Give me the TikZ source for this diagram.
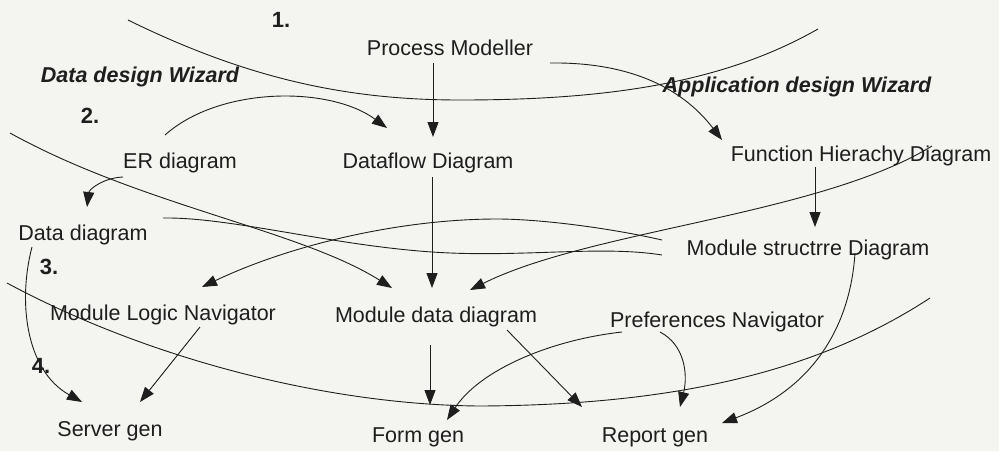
\documentclass[tikz,border=0pt]{standalone}
\usepackage{fontspec}
\setmainfont{Liberation Sans}
\usetikzlibrary{arrows.meta}
\definecolor{paper}{RGB}{244,244,240}
\definecolor{ink}{RGB}{30,30,30}
\begin{document}
\begin{tikzpicture}[x=1pt,y=-1pt,
  lbl/.style={inner sep=0pt, text height=15.5pt, text depth=4.5pt, font=\fontsize{21.5}{24}\selectfont, text=ink},
  hdr/.style={lbl, font=\fontsize{21.5}{24}\selectfont\bfseries\itshape},
  num/.style={lbl, font=\fontsize{22}{24}\selectfont\bfseries},
  link/.style={draw=ink, line width=0.9pt},
  arr/.style={link, -{Triangle[length=15pt,width=11pt]}},
]
\fill[paper] (0,0) rectangle (999,451);
\useasboundingbox (0,0) rectangle (999,451);

% labels
\node[num] (n1) at (281,22) {1.};
\node[lbl] (pm) at (450,50) {Process Modeller};
\node[hdr] (ddw) at (140,77) {Data design Wizard};
\node[hdr] (adw) at (797,87) {Application design Wizard};
\node[num] (n2) at (90,118) {2.};
\node[lbl] (er) at (180,163) {ER diagram};
\node[lbl] (df) at (428,163) {Dataflow Diagram};
\node[lbl] (fhd) at (861,156) {Function Hierachy Diagram};
\node[lbl] (dd) at (83,235) {Data diagram};
\node[num] (n3) at (49,269) {3.};
\node[lbl] (msd) at (808,250) {Module structrre Diagram};
\node[lbl] (mln) at (163,315) {Module Logic Navigator};
\node[lbl] (mdd) at (436,317) {Module data diagram};
\node[lbl] (pn) at (717,322) {Preferences Navigator};
\node[num] (n4) at (41,368) {4.};
\node[lbl] (sg) at (110,431) {Server gen};
\node[lbl] (fg) at (418,437) {Form gen};
\node[lbl] (rg) at (655,437) {Report gen};

% free ends
\coordinate (k0) at (128,20);
\coordinate (k1) at (818,29);
\coordinate (g0) at (10,133);
\coordinate (l0) at (7,283);
\coordinate (l1) at (930,298);

% separators
\draw[link] (k0) .. controls (250,80) and (350,100) .. (460,100)
  .. controls (600,100) and (720,85) .. (k1);
\draw[link] (l0) .. controls (150,360) and (330,405) .. (480,406)
  .. controls (680,405) and (820,370) .. (l1);

% connectors
\draw[arr] ([shift={(-17,13)}]pm.center) -- ([shift={(5,-26)}]df.center);
\draw[arr] ([shift={(100,13)}]pm.center) .. controls (625,62) and (680,85) .. ([shift={(-139,-16)}]fhd.center);
\draw[arr] ([shift={(-15,-28)}]er.center) .. controls (220,86) and (330,86) .. ([shift={(-41,-35)}]df.center);
\draw[arr] ([shift={(-57,14)}]er.center) .. controls (102,178) and (89,190) .. ([shift={(4,-28)}]dd.center);
\draw[arr] ([shift={(4,14)}]df.center) -- ([shift={(-4,-29)}]mdd.center);
\draw[arr] ([shift={(-46,11)}]fhd.center) -- ([shift={(7,-23)}]msd.center);
\draw[arr] (g0) .. controls (140,205) and (300,230) .. ([shift={(-44,-29)}]mdd.center);
\draw[link] ([shift={(80,-17)}]dd.center) .. controls (230,217) and (330,245) .. (432,252)
  .. controls (520,258) and (600,245) .. ([shift={(-146,5)}]msd.center);
\draw[arr] ([shift={(-146,-10)}]msd.center) .. controls (610,228) and (540,219) .. (497,219)
  .. controls (400,219) and (290,245) .. ([shift={(39,-28)}]mln.center);
\draw[arr] ([shift={(71,-10)}]fhd.center) .. controls (820,215) and (590,230) .. ([shift={(34,-27)}]mdd.center);
\draw[arr] ([shift={(-51,12)}]dd.center) .. controls (18,300) and (25,370) .. ([shift={(-28,-29)}]sg.center);
\draw[arr] ([shift={(37,12)}]mln.center) -- ([shift={(30,-29)}]sg.center);
\draw[arr] ([shift={(-6,28)}]mdd.center) -- ([shift={(12,-32)}]fg.center);
\draw[arr] ([shift={(71,13)}]mdd.center) -- ([shift={(-73,-30)}]rg.center);
\draw[arr] ([shift={(-95,10)}]pn.center) .. controls (550,340) and (480,370) .. ([shift={(29,-17)}]fg.center);
\draw[arr] ([shift={(-57,10)}]pn.center) .. controls (685,345) and (688,375) .. ([shift={(25,-30)}]rg.center);
\draw[arr] ([shift={(47,3)}]msd.center) .. controls (850,330) and (810,390) .. ([shift={(67,-14)}]rg.center);
\end{tikzpicture}
\end{document}
